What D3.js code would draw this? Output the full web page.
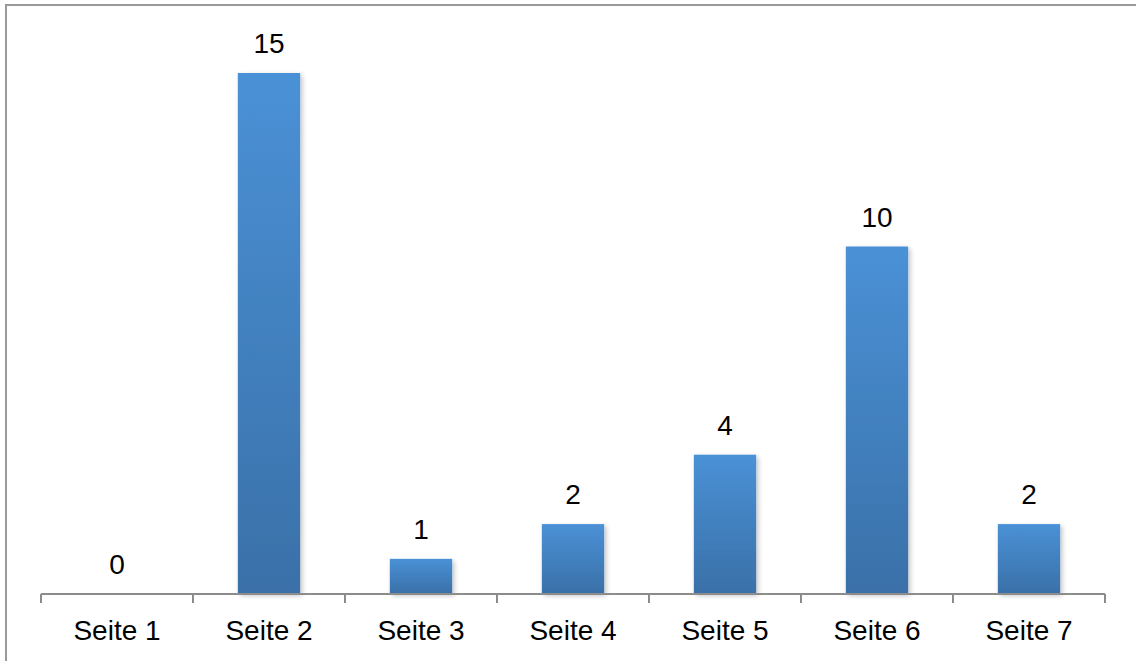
<!DOCTYPE html>
<html>
<head>
<meta charset="utf-8">
<script src="https://cdn.jsdelivr.net/npm/d3@7"></script>
<style>
  html, body { margin: 0; padding: 0; background: #fff; }
  svg { display: block; }
  text { font-family: "Liberation Sans", Arial, sans-serif; fill: #000; }
</style>
</head>
<body>
<svg id="chart" width="1136" height="661"></svg>
<script>
// Page counts per category
const categories = ["Seite 1", "Seite 2", "Seite 3", "Seite 4", "Seite 5", "Seite 6", "Seite 7"];
const values = [0, 15, 1, 2, 4, 10, 2];

const svg = d3.select("#chart");
const W = 1136, H = 661;

// outer chart frame
svg.append("rect")
  .attr("x", 6).attr("y", 5)
  .attr("width", W + 10).attr("height", H + 10)
  .attr("fill", "#fff")
  .attr("stroke", "#9a9a9a")
  .attr("stroke-width", 2);

const x = d3.scaleBand()
  .domain(categories)
  .range([41, 1105])
  .paddingInner(0.59)
  .paddingOuter(0.295);

const y = d3.scaleLinear()
  .domain([0, 15])
  .range([593.5, 73]);

// bar gradient and soft shadow
const defs = svg.append("defs");
const grad = defs.append("linearGradient")
  .attr("id", "barGrad")
  .attr("x1", 0).attr("y1", 0).attr("x2", 0).attr("y2", 1);
grad.append("stop").attr("offset", "0%").attr("stop-color", "#4a91d6");
grad.append("stop").attr("offset", "100%").attr("stop-color", "#3a70a8");

const shadow = defs.append("filter")
  .attr("id", "barShadow")
  .attr("x", "-20%").attr("y", "-5%").attr("width", "150%").attr("height", "120%");
shadow.append("feGaussianBlur").attr("in", "SourceAlpha").attr("stdDeviation", 2.5);
shadow.append("feOffset").attr("dx", 2).attr("dy", 2).attr("result", "blur");
shadow.append("feComponentTransfer").append("feFuncA").attr("type", "linear").attr("slope", 0.25);
const merge = shadow.append("feMerge");
merge.append("feMergeNode");
merge.append("feMergeNode").attr("in", "SourceGraphic");

svg.append("g")
  .selectAll("rect")
  .data(values)
  .join("rect")
  .attr("x", (d, i) => x(categories[i]))
  .attr("y", d => y(d))
  .attr("width", x.bandwidth())
  .attr("height", d => y(0) - y(d))
  .attr("fill", "url(#barGrad)")
  .attr("filter", "url(#barShadow)");

// value labels
svg.append("g")
  .selectAll("text")
  .data(values)
  .join("text")
  .attr("x", (d, i) => x(categories[i]) + x.bandwidth() / 2)
  .attr("y", d => y(d) - 20)
  .attr("text-anchor", "middle")
  .style("font-size", "28px")
  .text(d => d);

// category axis with ticks at band boundaries
const axisG = svg.append("g");
axisG.append("line")
  .attr("x1", 41).attr("x2", 1105)
  .attr("y1", 594).attr("y2", 594)
  .attr("stroke", "#8c8c8c").attr("stroke-width", 2);

const step = x.step();
const bounds = d3.range(categories.length + 1).map(i => 41 + i * step);
axisG.selectAll("line.tick")
  .data(bounds)
  .join("line")
  .attr("class", "tick")
  .attr("x1", d => d).attr("x2", d => d)
  .attr("y1", 594).attr("y2", 603)
  .attr("stroke", "#8c8c8c").attr("stroke-width", 2);

axisG.selectAll("text")
  .data(categories)
  .join("text")
  .attr("x", d => x(d) + x.bandwidth() / 2)
  .attr("y", 639.5)
  .attr("text-anchor", "middle")
  .style("font-size", "28px")
  .text(d => d);
</script>
</body>
</html>
